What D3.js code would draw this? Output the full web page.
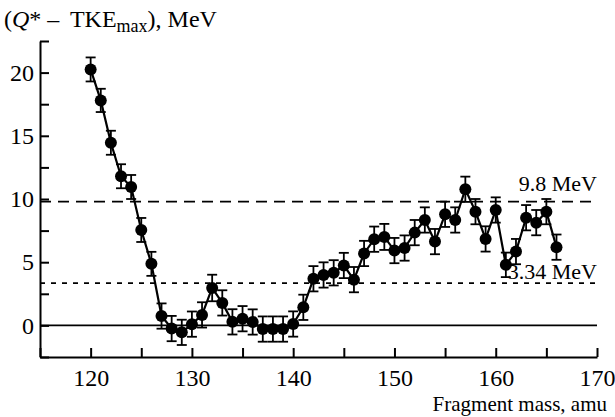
<!DOCTYPE html>
<html>
<head>
<meta charset="utf-8">
<script src="https://cdn.jsdelivr.net/npm/d3@7"></script>
<style>
  body { margin: 0; background: #fff; }
  svg { display: block; }
  svg text { font-family: "Liberation Serif", "Times New Roman", serif; fill: #000; }
</style>
</head>
<body>
<svg id="chart" width="615" height="417"></svg>
<script>
// Fragment mass (amu) and (Q* - TKE_max) in MeV with uncertainties
const masses = [120,121,122,123,124,125,126,127,128,129,130,131,132,133,134,135,136,137,138,139,140,141,142,143,144,145,146,147,148,149,150,151,152,153,154,155,156,157,158,159,160,161,162,163,164,165,166];
const values = [20.25,17.8,14.45,11.8,10.95,7.55,4.87,0.74,-0.25,-0.55,0.1,0.83,2.96,1.78,0.28,0.53,0.27,-0.29,-0.29,-0.29,0.11,1.43,3.69,3.99,4.16,4.74,3.62,5.69,6.82,7.0,5.92,6.12,7.34,8.34,6.63,8.79,8.34,10.77,9.0,6.84,9.13,4.79,5.84,8.52,8.13,9.0,6.19];
const errors = [0.95,0.92,0.95,0.95,0.95,0.95,0.95,1.0,1.0,1.0,1.0,1.0,1.05,1.0,1.0,1.0,1.0,1.0,1.0,1.0,1.0,1.0,1.0,1.0,1.0,1.0,1.0,1.0,1.0,1.03,1.0,1.0,1.0,1.0,1.0,1.0,1.0,1.0,1.0,1.0,1.0,0.97,1.0,1.0,1.0,1.0,1.0];

// Reference levels
const levelValues = [9.8, 3.34];
const levelLabels = ["9.8 MeV", "3.34 MeV"];

const xTicks = [115,120,125,130,135,140,145,150,155,160,165,170];
const yTicks = [-2.5,0,2.5,5,7.5,10,12.5,15,17.5,20,22.5];
const xLabeled = [120,130,140,150,160,170];
const yLabeled = [0,5,10,15,20];

const svg = d3.select("#chart");
const x = d3.scaleLinear().domain([115, 170]).range([40, 597]);
const y = d3.scaleLinear().domain([-2.5, 22.5]).range([357, 41]);

const data = masses.map((m, i) => ({ m, v: values[i], e: errors[i] }));

// Axes with inward ticks
const xAxis = d3.axisBottom(x).tickValues(xTicks).tickSizeInner(-9).tickSizeOuter(0).tickPadding(12)
  .tickFormat(d => xLabeled.includes(d) ? d : "");
const yAxis = d3.axisLeft(y).tickValues(yTicks).tickSizeInner(-9).tickSizeOuter(0).tickPadding(6)
  .tickFormat(d => yLabeled.includes(d) ? d : "");

const gx = svg.append("g").attr("transform", `translate(0,${y(-2.5)})`).call(xAxis);
const gy = svg.append("g").attr("transform", `translate(${x(115)},0)`).call(yAxis);
[gx, gy].forEach(g => {
  g.attr("font-family", "Liberation Serif").attr("font-size", 24);
  g.select(".domain").attr("stroke", "#000").attr("stroke-width", 2);
  g.selectAll(".tick line").attr("stroke", "#000").attr("stroke-width", 2);
  g.selectAll(".tick text").attr("fill", "#000")
    .attr("font-family", "Liberation Serif").attr("font-size", 24);
});

// Zero line
svg.append("line")
  .attr("x1", x(115)).attr("x2", x(170))
  .attr("y1", y(0)).attr("y2", y(0))
  .attr("stroke", "#000").attr("stroke-width", 1.8);

// Dashed reference levels
const dashes = ["11,7", "5,6"];
const labelLift = [11, 4];
levelValues.forEach((v, i) => {
  svg.append("line")
    .attr("x1", x(115)).attr("x2", x(170))
    .attr("y1", y(v)).attr("y2", y(v))
    .attr("stroke", "#000").attr("stroke-width", 1.8)
    .attr("stroke-dasharray", dashes[i]);
  svg.append("text")
    .attr("x", x(170)).attr("y", y(v) - labelLift[i])
    .attr("text-anchor", "end")
    .attr("font-size", 22)
    .text(levelLabels[i]);
});

// Connecting line
svg.append("path")
  .datum(data)
  .attr("fill", "none").attr("stroke", "#000").attr("stroke-width", 2.2)
  .attr("d", d3.line().x(d => x(d.m)).y(d => y(d.v)));

// Error bars
const eb = svg.append("g").attr("stroke", "#000").attr("stroke-width", 1.8);
data.forEach(d => {
  const cx = x(d.m), top = y(d.v + d.e), bot = y(d.v - d.e);
  eb.append("line").attr("x1", cx).attr("x2", cx).attr("y1", top).attr("y2", bot);
  eb.append("line").attr("x1", cx - 5).attr("x2", cx + 5).attr("y1", top).attr("y2", top);
  eb.append("line").attr("x1", cx - 5).attr("x2", cx + 5).attr("y1", bot).attr("y2", bot);
});

// Markers
svg.append("g").selectAll("circle").data(data).join("circle")
  .attr("cx", d => x(d.m)).attr("cy", d => y(d.v)).attr("r", 6)
  .attr("fill", "#000");

// Axis titles
const title = svg.append("text").attr("x", 4).attr("y", 27).attr("font-size", 24);
title.append("tspan").text("(");
title.append("tspan").attr("font-style", "italic").text("Q");
title.append("tspan").text("* – ");
title.append("tspan").attr("dx", 5).text("TKE");
title.append("tspan").attr("dy", 5).attr("font-size", 18).text("max");
title.append("tspan").attr("dy", -5).text("), MeV");

svg.append("text").attr("x", 607).attr("y", 411).attr("text-anchor", "end")
  .attr("font-size", 21).text("Fragment mass, amu");
</script>
</body>
</html>
